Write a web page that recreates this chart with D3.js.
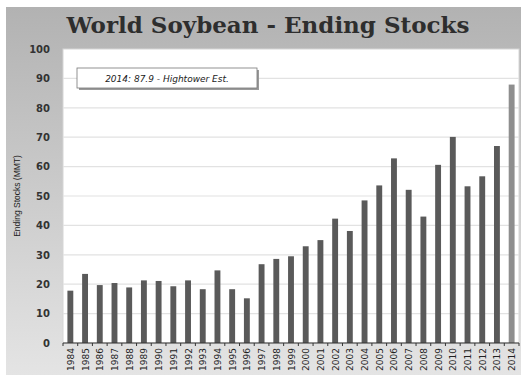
<!DOCTYPE html>
<html>
<head>
<meta charset="utf-8">
<script src="https://cdn.jsdelivr.net/npm/d3@7"></script>
<style>
  body { margin: 0; background: #fff; }
</style>
</head>
<body>
<div id="chart"></div>
<script>
// World soybean ending stocks, million metric tons
let years = ["1984", "1985", "1986", "1987", "1988", "1989", "1990", "1991", "1992", "1993",
    "1994", "1995", "1996", "1997", "1998", "1999", "2000", "2001", "2002", "2003",
    "2004", "2005", "2006", "2007", "2008", "2009", "2010", "2011", "2012", "2013", "2014"]
let stocks = [17.8, 23.5, 19.7, 20.4, 18.9, 21.3, 21.1, 19.3, 21.3, 18.3,
    24.7, 18.3, 15.2, 26.8, 28.6, 29.5, 32.9, 35.0, 42.3, 38.1,
    48.5, 53.6, 62.8, 52.1, 43.0, 60.6, 70.1, 53.3, 56.7, 67.0, 87.9]
let yTicks = [0, 10, 20, 30, 40, 50, 60, 70, 80, 90, 100]

let width = 521, height = 375
let plot = { left: 63, right: 519, top: 49, bottom: 343 }

let svg = d3.select('#chart').append('svg')
    .attr('width', width)
    .attr('height', height)

// frame background
let grad = svg.append('defs').append('linearGradient')
    .attr('id', 'bg')
    .attr('x1', 0).attr('y1', 0).attr('x2', 0).attr('y2', 1)
grad.append('stop').attr('offset', '0%').attr('stop-color', '#b2b2b2')
grad.append('stop').attr('offset', '100%').attr('stop-color', '#e4e4e4')

svg.append('rect')
    .attr('x', 6).attr('y', 7)
    .attr('width', width - 6).attr('height', height - 7)
    .attr('fill', 'url(#bg)')

svg.append('rect')
    .attr('x', plot.left).attr('y', plot.top)
    .attr('width', plot.right - plot.left).attr('height', plot.bottom - plot.top)
    .attr('fill', '#fff')
    .attr('stroke', '#d6d6d6')

let x = d3.scaleBand()
    .domain(years)
    .range([plot.left, plot.right])
    .paddingInner(0.6)
    .paddingOuter(0.3)

let y = d3.scaleLinear()
    .domain([0, 100])
    .range([plot.bottom, plot.top])

// horizontal gridlines
svg.append('g')
    .selectAll('line')
    .data(yTicks.slice(1, -1))
    .enter()
    .append('line')
    .attr('x1', plot.left).attr('x2', plot.right)
    .attr('y1', function (d) { return y(d) })
    .attr('y2', function (d) { return y(d) })
    .attr('stroke', '#e2e2e2')
    .attr('stroke-width', 1.2)

// bars
svg.append('g')
    .selectAll('rect')
    .data(stocks)
    .enter()
    .append('rect')
    .attr('x', function (d, i) { return x(years[i]) })
    .attr('y', function (d) { return y(d) })
    .attr('width', x.bandwidth())
    .attr('height', function (d) { return y(0) - y(d) })
    .attr('fill', function (d, i) { return years[i] === '2014' ? '#8e8e8e' : '#5a5a5a' })

// y axis labels
let yAxis = svg.append('g')
    .attr('transform', 'translate(' + plot.left + ',0)')
    .call(d3.axisLeft(y).tickValues(yTicks).tickSize(0).tickPadding(13))
yAxis.select('.domain').remove()
yAxis.selectAll('text')
    .attr('font-family', 'DejaVu Sans')
    .attr('font-weight', 'bold')
    .attr('font-size', 10)
    .attr('fill', '#333')

// x axis
svg.append('line')
    .attr('x1', plot.left).attr('x2', plot.right)
    .attr('y1', plot.bottom).attr('y2', plot.bottom)
    .attr('stroke', '#333')

let gap = x.step() * x.paddingInner() / 2
let bounds = years.map(function (d) { return x(d) - gap })
bounds.push(plot.right)
svg.append('g')
    .selectAll('line')
    .data(bounds)
    .enter()
    .append('line')
    .attr('x1', function (d) { return d }).attr('x2', function (d) { return d })
    .attr('y1', plot.bottom).attr('y2', plot.bottom + 3)
    .attr('stroke', '#333')

svg.append('g')
    .selectAll('text')
    .data(years)
    .enter()
    .append('text')
    .attr('transform', function (d) {
        return 'translate(' + (x(d) + x.bandwidth() / 2 + 3.5) + ',' + (plot.bottom + 5) + ') rotate(-90)'
    })
    .attr('text-anchor', 'end')
    .attr('font-family', 'DejaVu Sans')
    .attr('font-size', 9)
    .attr('fill', '#222')
    .text(function (d) { return d })

// titles
svg.append('text')
    .attr('x', 268).attr('y', 33)
    .attr('text-anchor', 'middle')
    .attr('font-family', 'DejaVu Serif')
    .attr('font-weight', 'bold')
    .attr('font-size', 23)
    .attr('fill', '#2e2e2e')
    .text('World Soybean - Ending Stocks')

svg.append('text')
    .attr('transform', 'translate(20,196) rotate(-90)')
    .attr('text-anchor', 'middle')
    .attr('font-family', 'Liberation Sans')
    .attr('font-size', 8.5)
    .attr('fill', '#222')
    .text('Ending Stocks (MMT)')

// annotation box
svg.append('rect')
    .attr('x', 79).attr('y', 70)
    .attr('width', 180).attr('height', 20)
    .attr('fill', '#9a9a9a')
svg.append('rect')
    .attr('x', 77).attr('y', 68)
    .attr('width', 180).attr('height', 20)
    .attr('fill', '#fff')
    .attr('stroke', '#777')
    .attr('stroke-width', 0.8)
svg.append('text')
    .attr('x', 167).attr('y', 81.5)
    .attr('text-anchor', 'middle')
    .attr('font-family', 'DejaVu Sans')
    .attr('font-style', 'italic')
    .attr('font-size', 9)
    .attr('fill', '#222')
    .text('2014: 87.9 - Hightower Est.')
</script>
</body>
</html>
